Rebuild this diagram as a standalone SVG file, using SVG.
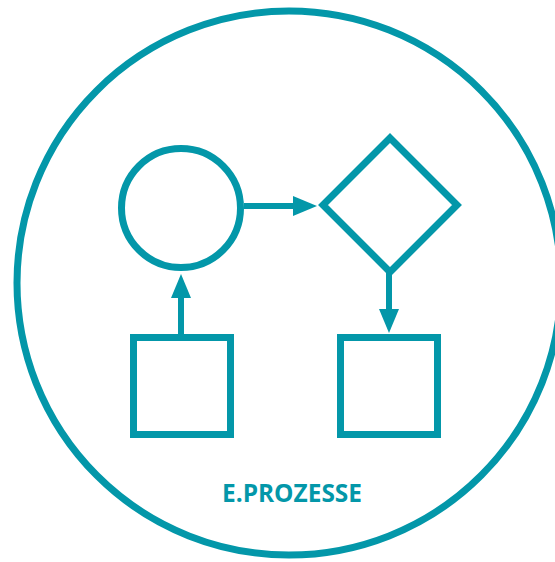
<svg xmlns="http://www.w3.org/2000/svg" width="555" height="562" viewBox="0 0 555 562">
  <defs>
    <marker id="arrow" markerUnits="userSpaceOnUse" markerWidth="24" markerHeight="20" refX="1" refY="10" orient="auto">
      <path d="M0,0 L24,10 L0,20 Z" fill="#0397A9"/>
    </marker>
  </defs>
  <style>
    .shape { fill: none; stroke: #0397A9; stroke-width: 7; stroke-miterlimit: 10; }
    .conn { fill: none; stroke: #0397A9; stroke-width: 6; }
    .label { font-family: "Open Sans", "Liberation Sans", sans-serif; font-weight: bold; font-size: 25px; fill: #0397A9; }
  </style>
  <rect width="555" height="562" fill="#ffffff"/>
  <g id="frame">
    <circle class="shape" cx="289" cy="283" r="272"/>
  </g>
  <g id="start">
    <circle class="shape" cx="181" cy="208" r="59.5"/>
  </g>
  <g id="decision">
    <path class="shape" d="M390,138 L457,205 L390,272 L323,205 Z"/>
  </g>
  <g id="input">
    <rect class="shape" x="133.5" y="337.5" width="97" height="97"/>
  </g>
  <g id="output">
    <rect class="shape" x="340.5" y="337.5" width="97" height="97"/>
  </g>
  <g id="connectors">
    <line class="conn" x1="244" y1="206" x2="294" y2="206" marker-end="url(#arrow)"/>
    <line class="conn" x1="389" y1="272" x2="389" y2="310" marker-end="url(#arrow)"/>
    <line class="conn" x1="181" y1="334" x2="181" y2="297" marker-end="url(#arrow)"/>
  </g>
  <g id="title">
    <text class="label" x="292" y="502" text-anchor="middle" textLength="140" lengthAdjust="spacingAndGlyphs">E.PROZESSE</text>
  </g>
</svg>
